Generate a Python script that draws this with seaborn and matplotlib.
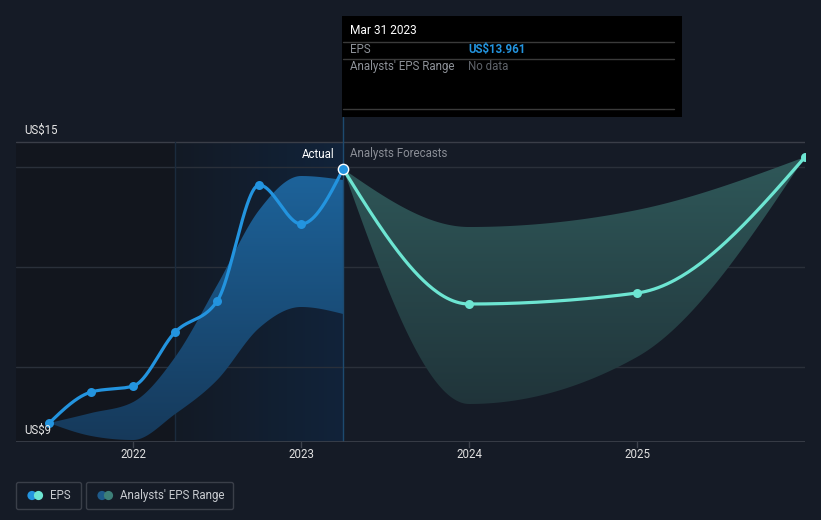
import numpy as np
import pandas as pd
import matplotlib
matplotlib.use("Agg")
import matplotlib.pyplot as plt
import seaborn as sns
from matplotlib.patches import Polygon, Rectangle, FancyBboxPatch, Circle
from matplotlib.colors import LinearSegmentedColormap

# ---------------- data ----------------
actual_dates = [2021.5, 2021.75, 2022.0, 2022.25, 2022.5, 2022.75, 2023.0, 2023.25]
actual_eps = [8.88, 9.50, 9.62, 10.70, 11.32, 13.64, 12.86, 13.961]
past_range_high = [8.88, 9.08, 9.30, 10.20, 11.64, 13.14, 13.82, 13.74]
past_range_low = [8.88, 8.62, 8.54, 9.06, 9.74, 10.78, 11.20, 11.06]
forecast_dates = [2023.25, 2024.0, 2025.0, 2026.0]
forecast_eps = [13.961, 11.26, 11.48, 14.20]
forecast_high = [13.961, 12.80, 13.14, 14.20]
forecast_low = [13.961, 9.26, 10.20, 14.20]
year_ticks = [2022, 2023, 2024, 2025]
year_labels = ["2022", "2023", "2024", "2025"]
gridlines = [10, 12, 14, 14.5]

# ---------------- style ----------------
BG = "#151b26"
sns.set_theme(style="dark", rc={"figure.facecolor": BG, "axes.facecolor": BG})
plt.rcParams["font.family"] = ["Roboto", "DejaVu Sans"]

W, H = 821, 520
fig = plt.figure(figsize=(W / 100, H / 100), dpi=100)
fig.patch.set_facecolor(BG)


def px(x0, y0, x1, y1):
    return [x0 / W, 1 - y1 / H, (x1 - x0) / W, (y1 - y0) / H]


XMIN, XMAX = 2021.302, 2026.0
YMIN, YMAX = 8.5, 15.0
ax = fig.add_axes(px(16, 117, 805, 442))
ax.set_facecolor("none")
ax.set_xlim(XMIN, XMAX)
ax.set_ylim(YMIN, YMAX)
for s in ax.spines.values():
    s.set_visible(False)
ax.set_xticks([])
ax.set_yticks([])
ax.grid(False)


def monotone(xs, ys, n=80):
    xs = np.asarray(xs, float)
    ys = np.asarray(ys, float)
    h = np.diff(xs)
    s = np.diff(ys) / h
    m = len(xs)
    t = np.zeros(m)
    for i in range(1, m - 1):
        h0, h1 = h[i - 1], h[i]
        s0, s1 = s[i - 1], s[i]
        p = (s0 * h1 + s1 * h0) / (h0 + h1)
        t[i] = (np.sign(s0) + np.sign(s1)) * min(abs(s0), abs(s1), 0.5 * abs(p))
    if m > 2:
        t[0] = (3 * s[0] - t[1]) / 2
        t[-1] = (3 * s[-1] - t[-2]) / 2
    else:
        t[:] = s[0]
    X, Y = [], []
    for i in range(m - 1):
        u = np.linspace(0, 1, n, endpoint=(i == m - 2))
        hh = h[i]
        h00 = 2 * u**3 - 3 * u**2 + 1
        h10 = u**3 - 2 * u**2 + u
        h01 = -2 * u**3 + 3 * u**2
        h11 = u**3 - u**2
        X.append(xs[i] + u * hh)
        Y.append(h00 * ys[i] + h10 * hh * t[i] + h01 * ys[i + 1] + h11 * hh * t[i + 1])
    return np.concatenate(X), np.concatenate(Y)


# ---------------- background regions ----------------
ax.add_patch(Rectangle((XMIN, YMIN), 2022.25 - XMIN, 14.5 - YMIN, facecolor="#12161e",
                       edgecolor="none", zorder=0))
hgrad = np.linspace(0, 1, 256).reshape(1, -1)
cm_bg = LinearSegmentedColormap.from_list("bg", ["#131a25", "#11233a"])
ax.imshow(hgrad, cmap=cm_bg, extent=[2022.25, 2023.25, YMIN, 14.5], origin="lower",
          aspect="auto", zorder=0.5)

for g in gridlines:
    ax.axhline(g, color="#3a3e48" if g == 14.5 else "#2a303a", lw=1, zorder=1)
ax.axvline(2022.25, ymin=0, ymax=(14.5 - YMIN) / (YMAX - YMIN), color="#1b2b3d", lw=1, zorder=1)


def gradient_band(xs, lo, hi, c_bot, c_top, ybot, ytop, z):
    x, yh = monotone(xs, hi)
    _, yl = monotone(xs, lo)
    verts = np.concatenate([np.column_stack([x, yh]), np.column_stack([x[::-1], yl[::-1]])])
    poly = Polygon(verts, closed=True, facecolor="none", edgecolor="none")
    ax.add_patch(poly)
    grad = np.linspace(0, 1, 256).reshape(-1, 1)
    cmap = LinearSegmentedColormap.from_list("band", [c_bot, c_top])
    im = ax.imshow(grad, cmap=cmap, extent=[x.min(), x.max(), ybot, ytop], origin="lower",
                   aspect="auto", zorder=z)
    im.set_clip_path(poly)


gradient_band(actual_dates, past_range_low, past_range_high, "#16395a", "#1d649c", 8.5, 14.0, 2)
gradient_band(forecast_dates, forecast_low, forecast_high, "#20343a", "#2f5859", 9.2, 14.2, 2)

ax.axvline(2023.25, color="#1d4a6f", lw=1, zorder=2.5)
ax.axhline(YMIN, color="#3d424c", lw=1.2, zorder=3)
for yr in year_ticks:
    ax.plot([yr, yr], [YMIN, YMIN - 0.09], color="#3d424c", lw=1, clip_on=False, zorder=3)

# ---------------- lines ----------------
ax_x, ax_y = monotone(actual_dates, actual_eps)
df_a = pd.DataFrame({"date": ax_x, "eps": ax_y})
sns.lineplot(data=df_a, x="date", y="eps", sort=False, color="#2394df", lw=2.3, ax=ax, zorder=4)
fx, fy = monotone(forecast_dates, forecast_eps)
df_f = pd.DataFrame({"date": fx, "eps": fy})
sns.lineplot(data=df_f, x="date", y="eps", sort=False, color="#6de5d2", lw=2.3, ax=ax, zorder=4)

pts_a = pd.DataFrame({"date": actual_dates[:-1], "eps": actual_eps[:-1]})
sns.scatterplot(data=pts_a, x="date", y="eps", color="#2394df", s=42, linewidth=0, ax=ax, zorder=5)
pts_f = pd.DataFrame({"date": forecast_dates[1:], "eps": forecast_eps[1:]})
sns.scatterplot(data=pts_f, x="date", y="eps", color="#6de5d2", s=42, linewidth=0, ax=ax, zorder=5)
sns.scatterplot(x=[actual_dates[-1]], y=[actual_eps[-1]], color="#2394df", s=55,
                edgecolor="white", linewidth=1.0, ax=ax, zorder=6)

ax.set_xlim(XMIN, XMAX)
ax.set_ylim(YMIN, YMAX)
ax.set_xlabel("")
ax.set_ylabel("")

# ---------------- overlay (pixel coordinates) ----------------
ov = fig.add_axes([0, 0, 1, 1])
ov.set_xlim(0, W)
ov.set_ylim(H, 0)
ov.axis("off")
ov.patch.set_alpha(0)

FS = 8.3
ov.add_patch(Rectangle((342, 16), 340, 101, facecolor="#000000", edgecolor="none"))
for yy in (41.5, 58.5, 108.5):
    ov.plot([343, 674], [yy, yy], color="#3a3a3a", lw=1)
ov.text(350, 31, "Mar 31 2023", color="#ffffff", fontsize=FS + 0.3, va="center", ha="left")
ov.text(350, 49.5, "EPS", color="#8e9299", fontsize=FS, va="center")
ov.text(468, 49.5, "US$13.961", color="#2394df", fontsize=FS, va="center", fontweight="bold")
ov.text(350, 66.5, "Analysts' EPS Range", color="#8e9299", fontsize=FS, va="center")
ov.text(468, 66.5, "No data", color="#5f636a", fontsize=FS, va="center")

ov.text(334, 154, "Actual", color="#ffffff", fontsize=FS, va="center", ha="right")
ov.text(350, 154, "Analysts Forecasts", color="#8a8e96", fontsize=FS, va="center", ha="left")
ov.text(24, 130, "US$15", color="#e6e6e6", fontsize=FS, va="center", ha="left")
ov.text(24, 430, "US$9", color="#e6e6e6", fontsize=FS, va="center", ha="left")

for yr, lab in zip(year_ticks, year_labels):
    xp = 16 + (yr - XMIN) / (XMAX - XMIN) * (805 - 16)
    ov.text(xp, 455, lab, color="#e0e0e0", fontsize=FS, va="center", ha="center")

# legend
ov.add_patch(FancyBboxPatch((16.5, 482.5), 65, 27, boxstyle="round,pad=0,rounding_size=2",
                            facecolor="none", edgecolor="#3a3f49", lw=1))
ov.add_patch(FancyBboxPatch((86.5, 482.5), 147, 27, boxstyle="round,pad=0,rounding_size=2",
                            facecolor="none", edgecolor="#3a3f49", lw=1))
ov.add_patch(Circle((32, 495.5), 4.6, facecolor="#2394df", edgecolor="none"))
ov.add_patch(Circle((38.5, 495.5), 4.6, facecolor="#6de5d2", edgecolor="none"))
ov.add_patch(Circle((102, 495.5), 4.6, facecolor="#1e5a8a", edgecolor="none"))
ov.add_patch(Circle((108.5, 495.5), 4.6, facecolor="#3d7f78", edgecolor="none"))
ov.text(50, 495.5, "EPS", color="#c8cbd0", fontsize=FS, va="center")
ov.text(120, 495.5, "Analysts' EPS Range", color="#c8cbd0", fontsize=FS, va="center")

fig.savefig("out.png", dpi=100, facecolor=BG)
